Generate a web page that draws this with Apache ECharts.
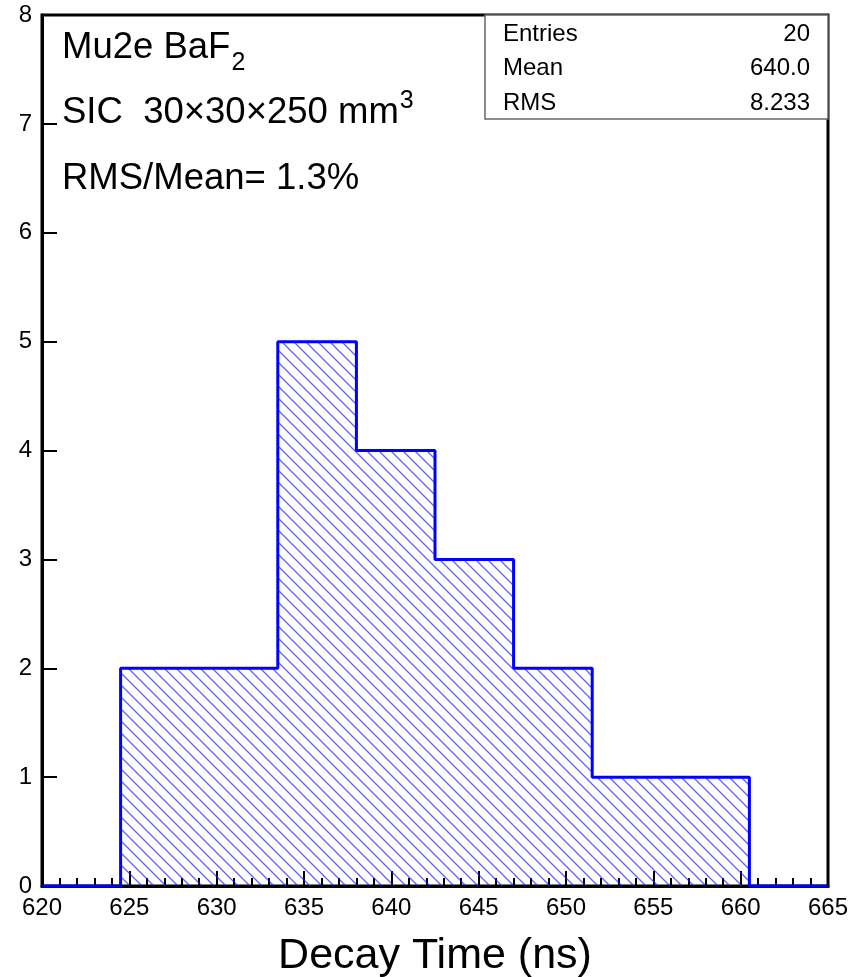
<!DOCTYPE html>
<html>
<head>
<meta charset="utf-8">
<title>Mu2e BaF2 decay time</title>
<script src="https://cdn.jsdelivr.net/npm/echarts@6/dist/echarts.min.js"></script>
<style>
  html, body { margin: 0; padding: 0; background: #fff; }
  #main { width: 852px; height: 977px; }
</style>
</head>
<body>
<div id="main"></div>
<script>
// histogram: 10 bins from 620 to 665 ns
const binLow = [620, 624.5, 629, 633.5, 638, 642.5, 647, 651.5, 656, 660.5];
const binWidth = 4.5;
const counts = [0, 2, 2, 5, 4, 3, 2, 1, 1, 0];
const xTicks = [620, 625, 630, 635, 640, 645, 650, 655, 660, 665];
const yTicks = [0, 1, 2, 3, 4, 5, 6, 7, 8];
const statNames = ['Entries', 'Mean', 'RMS'];
const statValues = ['20', '640.0', '8.233'];

const font = 'Liberation Sans, Arial, sans-serif';

// hatch pattern (\\\ lines) like ROOT fill style 3004
function hatch() {
  const s = 12;
  const c = document.createElement('canvas');
  c.width = s; c.height = s;
  const ctx = c.getContext('2d');
  ctx.strokeStyle = 'rgba(30,30,255,0.7)';
  ctx.lineWidth = 1.3;
  ctx.beginPath();
  ctx.moveTo(0, 0); ctx.lineTo(s, s);
  ctx.moveTo(-2, s - 2); ctx.lineTo(2, s + 2);
  ctx.moveTo(s - 2, -2); ctx.lineTo(s + 2, 2);
  ctx.stroke();
  return c;
}

function textWidth(str, size) {
  const ctx = document.createElement('canvas').getContext('2d');
  ctx.font = size + 'px ' + font;
  return ctx.measureText(str).width;
}

const barData = binLow.map((lo, i) => [lo, lo + binWidth, counts[i]]);

// step outline of the histogram
let outline = [[binLow[0], 0]];
binLow.forEach((lo, i) => {
  outline.push([lo, counts[i]]);
  outline.push([lo + binWidth, counts[i]]);
});
outline.push([binLow[binLow.length - 1] + binWidth, 0]);

const chart = echarts.init(document.getElementById('main'));
const pattern = { image: hatch(), repeat: 'repeat' };

let statGraphics = [
  {
    type: 'rect',
    shape: { x: 485, y: 15, width: 343, height: 104 },
    style: { fill: '#fff', stroke: '#666', lineWidth: 1.5 },
    z: 10
  }
];
statNames.forEach((n, i) => {
  statGraphics.push({
    type: 'text', x: 503, y: 34 + i * 34.5, z: 11,
    style: { text: n, font: '24px ' + font, fill: '#000', verticalAlign: 'middle', align: 'left' }
  });
  statGraphics.push({
    type: 'text', x: 810, y: 34 + i * 34.5, z: 11,
    style: { text: statValues[i], font: '24px ' + font, fill: '#000', verticalAlign: 'middle', align: 'right' }
  });
});

// latex-like notes, small part is sub/superscript
const mainSize = 36.5;
const smallSize = 25;
const notes = [
  { text: 'Mu2e BaF', small: '2', y: 47.5, dy: 16 },
  { text: 'SIC  30\u00d730\u00d7250 mm', small: '3', y: 112.5, dy: -11.5 },
  { text: 'RMS/Mean= 1.3%', small: '', y: 178.5, dy: 0 }
];

let noteGraphics = [];
notes.forEach(n => {
  noteGraphics.push({
    type: 'text', x: 62, y: n.y, z: 11,
    style: { text: n.text, font: mainSize + 'px ' + font, fill: '#000', verticalAlign: 'middle' }
  });
  if (n.small) {
    noteGraphics.push({
      type: 'text', x: 62 + textWidth(n.text, mainSize) + 1, y: n.y + n.dy, z: 11,
      style: { text: n.small, font: smallSize + 'px ' + font, fill: '#000', verticalAlign: 'middle' }
    });
  }
});

const option = {
  animation: false,
  backgroundColor: '#fff',
  grid: {
    left: 42, right: 24, top: 15, bottom: 91,
    outerBoundsMode: 'none',
    show: true, borderColor: '#000', borderWidth: 3, backgroundColor: 'transparent'
  },
  xAxis: {
    type: 'value',
    min: xTicks[0], max: xTicks[xTicks.length - 1], interval: 5,
    name: 'Decay Time (ns)',
    nameLocation: 'middle', nameGap: 49,
    nameTextStyle: { fontSize: 43, fontFamily: font, color: '#000' },
    axisLine: { lineStyle: { color: '#000', width: 3 } },
    axisTick: { inside: true, length: 15, lineStyle: { color: '#000', width: 2 } },
    minorTick: { show: true, splitNumber: 5, length: 8, lineStyle: { color: '#000', width: 2 } },
    axisLabel: { fontSize: 24, fontFamily: font, color: '#000', margin: 10 },
    splitLine: { show: false }
  },
  yAxis: {
    type: 'value',
    min: yTicks[0], max: yTicks[yTicks.length - 1], interval: 1,
    axisLine: { show: true, lineStyle: { color: '#000', width: 3 } },
    axisTick: { show: true, inside: true, length: 15, lineStyle: { color: '#000', width: 2 } },
    axisLabel: { fontSize: 24, fontFamily: font, color: '#000', margin: 10 },
    splitLine: { show: false }
  },
  series: [
    {
      type: 'custom',
      data: barData,
      z: 1,
      renderItem: function (params, api) {
        const p0 = api.coord([api.value(0), api.value(2)]);
        const p1 = api.coord([api.value(1), 0]);
        return {
          type: 'rect',
          shape: { x: p0[0], y: p0[1], width: p1[0] - p0[0], height: p1[1] - p0[1] },
          style: { fill: pattern, stroke: null }
        };
      }
    },
    {
      type: 'line',
      data: outline,
      showSymbol: false,
      clip: false,
      z: 3,
      lineStyle: { color: '#0000ff', width: 3 }
    }
  ],
  graphic: statGraphics.concat(noteGraphics)
};

chart.setOption(option);
</script>
</body>
</html>
